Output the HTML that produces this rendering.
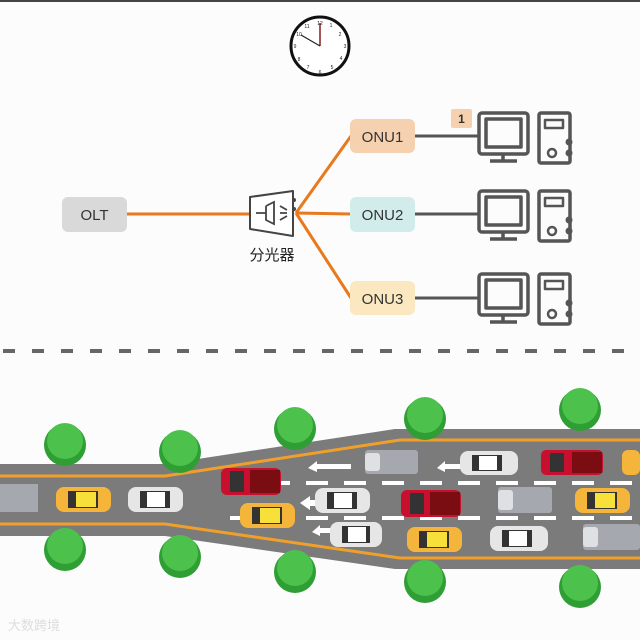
<!DOCTYPE html>
<html><head><meta charset="utf-8"><style>
html,body{margin:0;padding:0;background:#fcfcfc}
svg{display:block}
text{font-family:"Liberation Sans","Noto Sans CJK SC",sans-serif}
</style></head><body>
<svg width="640" height="640" viewBox="0 0 640 640" xmlns="http://www.w3.org/2000/svg">
<rect width="640" height="640" fill="#fcfcfc"/>
<rect x="0" y="0" width="640" height="2" fill="#444"/>
<!-- clock -->
<circle cx="320" cy="46" r="29" fill="#fff" stroke="#111" stroke-width="3"/>
<g font-size="5" fill="#222" text-anchor="middle">
<text x="320" y="25">12</text><text x="331" y="27">1</text><text x="340" y="36">2</text><text x="345" y="48">3</text><text x="341" y="60">4</text><text x="332" y="69">5</text><text x="320" y="74">6</text><text x="308" y="69">7</text><text x="299" y="61">8</text><text x="295" y="48">9</text><text x="299" y="36">10</text><text x="307" y="28">11</text>
</g>
<line x1="320" y1="46" x2="320" y2="23" stroke="#8b1a1a" stroke-width="1.5"/>
<line x1="320" y1="46" x2="301" y2="35" stroke="#222" stroke-width="1.2"/>
<!-- connectors -->
<line x1="127" y1="214" x2="250" y2="214" stroke="#e8791c" stroke-width="3"/>
<g stroke="#e8791c" stroke-width="3" fill="none">
<line x1="296" y1="213" x2="351" y2="136"/>
<line x1="296" y1="213" x2="351" y2="214"/>
<line x1="296" y1="213" x2="351" y2="298"/>
</g>
<g stroke="#555" stroke-width="3">
<line x1="415" y1="136" x2="478" y2="136"/>
<line x1="415" y1="214" x2="478" y2="214"/>
<line x1="415" y1="298" x2="478" y2="298"/>
</g>
<rect x="62" y="197" width="65" height="35" rx="6" fill="#d9d9d9"/>
<text x="94.5" y="220" font-size="15" text-anchor="middle" fill="#333">OLT</text>
<!-- splitter -->
<path d="M250 197 L293 191 L293 236 L250 229 Z" fill="#fff" stroke="#444" stroke-width="2" stroke-linejoin="round"/>
<path d="M256 213 H266 M266 206 V220 L274 224 V202 L266 206 M280 206 L287 210 M280 213 H287 M280 220 L287 216" stroke="#444" stroke-width="1.8" fill="none"/>
<circle cx="294" cy="200" r="2" fill="#444"/><circle cx="294" cy="209" r="2" fill="#444"/>
<text x="272" y="260" font-size="15" text-anchor="middle" fill="#222">分光器</text>
<!-- ONUs -->
<rect x="350" y="119" width="65" height="34" rx="6" fill="#f6d1b0"/>
<text x="382.5" y="142" font-size="15" text-anchor="middle" fill="#333">ONU1</text>
<rect x="350" y="197" width="65" height="35" rx="6" fill="#d2ecec"/>
<text x="382.5" y="220" font-size="15" text-anchor="middle" fill="#333">ONU2</text>
<rect x="350" y="281" width="65" height="34" rx="6" fill="#fbe8c0"/>
<text x="382.5" y="304" font-size="15" text-anchor="middle" fill="#333">ONU3</text>
<rect x="451" y="109" width="21" height="19" rx="2" fill="#f6d1b0"/>
<text x="461.5" y="123" font-size="12" font-weight="bold" text-anchor="middle" fill="#333">1</text>
<!-- computers -->
<g id="pc" fill="none" stroke="#555" stroke-width="3.5" stroke-linejoin="round">
<rect x="479" y="113" width="49" height="41" rx="3"/>
<rect x="486" y="119" width="35" height="28"/>
<line x1="503" y1="155" x2="503" y2="160"/>
<line x1="490" y1="161" x2="517" y2="161"/>
<rect x="539" y="113" width="31" height="50" rx="2"/>
<rect x="545" y="120" width="18" height="8" stroke-width="2.5"/>
<circle cx="552" cy="153" r="4" stroke-width="2.5"/>
</g>
<g fill="#555"><circle cx="569" cy="142" r="3.5"/><circle cx="569" cy="153" r="3.5"/></g>
<use href="#pc" y="78"/><use href="#pc" y="161"/>
<g fill="#555"><circle cx="569" cy="220" r="3.5"/><circle cx="569" cy="231" r="3.5"/><circle cx="569" cy="303" r="3.5"/><circle cx="569" cy="314" r="3.5"/></g>
<!-- dashed separator -->
<line x1="3" y1="351" x2="640" y2="351" stroke="#666" stroke-width="4" stroke-dasharray="12 17"/>
<!-- road -->
<path d="M0 464 H165 L395 429 H640 V569 H395 L165 536 H0 Z" fill="#7b7b7b"/>
<path d="M0 476 H165 L400 440 H640" stroke="#f0a02a" stroke-width="3" fill="none"/>
<path d="M0 524 H165 L400 558 H640" stroke="#f0a02a" stroke-width="3" fill="none"/>
<g stroke="#fff" stroke-width="4" stroke-dasharray="22 16">
<line x1="230" y1="483" x2="640" y2="483"/>
<line x1="230" y1="518" x2="640" y2="518"/>
</g>
<line x1="150" y1="503" x2="177" y2="503" stroke="#fff" stroke-width="5"/>
<!-- arrows -->
<g fill="#fff">
<path d="M300 503 l10 -7 v4 h10 v6 h-10 v4 z"/>
<path d="M308 468 l9 -7 v3 h34 v5 h-34 v3 z"/>
<path d="M437 468 l8 -7 v3 h16 v5 h-16 v3 z"/>
<path d="M312 532 l8 -7 v3 h12 v5 h-12 v3 z"/>
</g>
<!-- trees -->
<g fill="#2f9e34">
<circle cx="65" cy="445" r="21"/><circle cx="180" cy="452" r="21"/><circle cx="295" cy="429" r="21"/><circle cx="425" cy="419" r="21"/><circle cx="580" cy="410" r="21"/>
<circle cx="65" cy="550" r="21"/><circle cx="180" cy="557" r="21"/><circle cx="295" cy="572" r="21"/><circle cx="425" cy="582" r="21"/><circle cx="580" cy="587" r="21"/>
</g>
<g fill="#4cc24c">
<circle cx="65" cy="441" r="18"/><circle cx="180" cy="448" r="18"/><circle cx="295" cy="425" r="18"/><circle cx="425" cy="415" r="18"/><circle cx="580" cy="406" r="18"/>
<circle cx="65" cy="546" r="18"/><circle cx="180" cy="553" r="18"/><circle cx="295" cy="568" r="18"/><circle cx="425" cy="578" r="18"/><circle cx="580" cy="583" r="18"/>
</g>
<!-- vehicles -->
<g>
<rect x="0" y="484" width="38" height="28" fill="#a6a8b0"/>
<rect x="365" y="450" width="53" height="24" rx="3" fill="#a6a8b0"/><rect x="365" y="453" width="15" height="18" rx="3" fill="#dfe0e4"/>
<rect x="498" y="487" width="54" height="26" rx="3" fill="#a6a8b0"/><rect x="498" y="490" width="15" height="20" rx="3" fill="#dfe0e4"/>
<rect x="583" y="524" width="57" height="26" rx="3" fill="#a6a8b0"/><rect x="583" y="527" width="15" height="20" rx="3" fill="#dfe0e4"/>
<rect x="56" y="487" width="55" height="25" rx="8" fill="#f5b53a"/><rect x="68" y="491" width="30" height="17" fill="#333"/><rect x="76" y="492" width="20" height="15" fill="#f7e03a"/>
<rect x="240" y="503" width="55" height="25" rx="8" fill="#f5b53a"/><rect x="252" y="507" width="30" height="17" fill="#333"/><rect x="260" y="508" width="20" height="15" fill="#f7e03a"/>
<rect x="407" y="527" width="55" height="25" rx="8" fill="#f5b53a"/><rect x="419" y="531" width="30" height="17" fill="#333"/><rect x="427" y="532" width="20" height="15" fill="#f7e03a"/>
<rect x="575" y="488" width="55" height="25" rx="8" fill="#f5b53a"/><rect x="587" y="492" width="30" height="17" fill="#333"/><rect x="595" y="493" width="20" height="15" fill="#f7e03a"/>
<rect x="622" y="450" width="18" height="25" rx="6" fill="#f5b53a"/>
<rect x="128" y="487" width="55" height="25" rx="8" fill="#e6e6e6"/><rect x="140" y="491" width="30" height="17" fill="#333"/><rect x="147" y="492" width="18" height="15" fill="#fff"/>
<rect x="315" y="488" width="55" height="25" rx="8" fill="#e6e6e6"/><rect x="327" y="492" width="30" height="17" fill="#333"/><rect x="334" y="493" width="18" height="15" fill="#fff"/>
<rect x="330" y="522" width="52" height="25" rx="8" fill="#e6e6e6"/><rect x="342" y="526" width="28" height="17" fill="#333"/><rect x="348" y="527" width="18" height="15" fill="#fff"/>
<rect x="460" y="451" width="58" height="24" rx="8" fill="#e6e6e6"/><rect x="472" y="455" width="30" height="16" fill="#333"/><rect x="479" y="456" width="18" height="14" fill="#fff"/>
<rect x="490" y="526" width="58" height="25" rx="8" fill="#e6e6e6"/><rect x="502" y="530" width="30" height="17" fill="#333"/><rect x="509" y="531" width="18" height="15" fill="#fff"/>
<rect x="221" y="468" width="60" height="27" rx="6" fill="#c8102e"/><rect x="250" y="470" width="30" height="23" fill="#7a0d12"/><rect x="230" y="471" width="14" height="21" fill="#333"/>
<rect x="401" y="490" width="60" height="27" rx="6" fill="#c8102e"/><rect x="430" y="492" width="30" height="23" fill="#7a0d12"/><rect x="410" y="493" width="14" height="21" fill="#333"/>
<rect x="541" y="450" width="62" height="25" rx="5" fill="#c8102e"/><rect x="572" y="452" width="30" height="21" fill="#7a0d12"/><rect x="550" y="453" width="14" height="19" fill="#333"/>
</g>
<text x="8" y="630" font-size="13" fill="#ddd">大数跨境</text>
</svg>
</body></html>
